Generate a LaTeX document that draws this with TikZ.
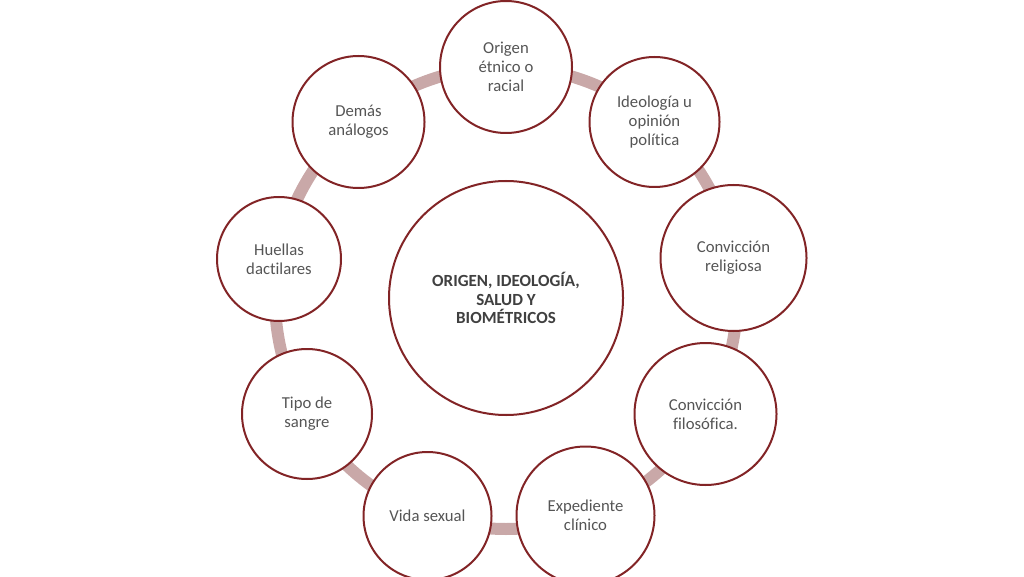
\documentclass[tikz,border=0pt]{standalone}
\usepackage{fontspec}
\setmainfont[Ligatures=NoCommon]{Carlito}
\definecolor{ringc}{RGB}{201,168,168}
\definecolor{edgec}{RGB}{130,36,38}
\definecolor{txtc}{RGB}{85,85,85}
\definecolor{ctxtc}{RGB}{64,64,64}
\begin{document}
\begin{tikzpicture}[x=1pt,y=-1pt,
  item/.style={circle,draw=edgec,line width=2pt,fill=white,inner sep=0pt,
    minimum size=#1,align=center,text=txtc,
    font=\fontsize{16.7}{19}\selectfont},
  hub/.style={circle,draw=edgec,line width=2pt,fill=white,inner sep=0pt,
    minimum size=234pt,align=center,text=ctxtc,
    font=\fontsize{17}{18.7}\selectfont\bfseries},
  ring/.style={draw=ringc,line width=12pt}]
\useasboundingbox (0,0) rectangle (1024,577);
\coordinate (c) at (506,298);
\draw[ring] (c) circle[radius=231pt];
\node[hub] (hub) at (c) {ORIGEN, IDEOLOGÍA,\\SALUD Y\\BIOMÉTRICOS};
\node[item=132pt] (n1) at (506,67) {Origen\\étnico o\\racial};
\node[item=130pt] (n2) at (654.5,122) {Ideología u\\opinión\\política};
\node[item=146pt] (n3) at (733.5,258) {Convicción\\religiosa};
\node[item=142pt] (n4) at (705.5,414) {Convicción\\filosófica.};
\node[item=138pt] (n5) at (585.5,515.5) {Expediente\\clínico};
\node[item=128pt] (n6) at (427.5,516) {Vida sexual};
\node[item=130pt] (n7) at (307,414) {Tipo de\\sangre};
\node[item=124pt] (n8) at (279,259) {Huellas\\dactilares};
\node[item=132pt] (n9) at (358.5,122) {Demás\\análogos};
\end{tikzpicture}
\end{document}
